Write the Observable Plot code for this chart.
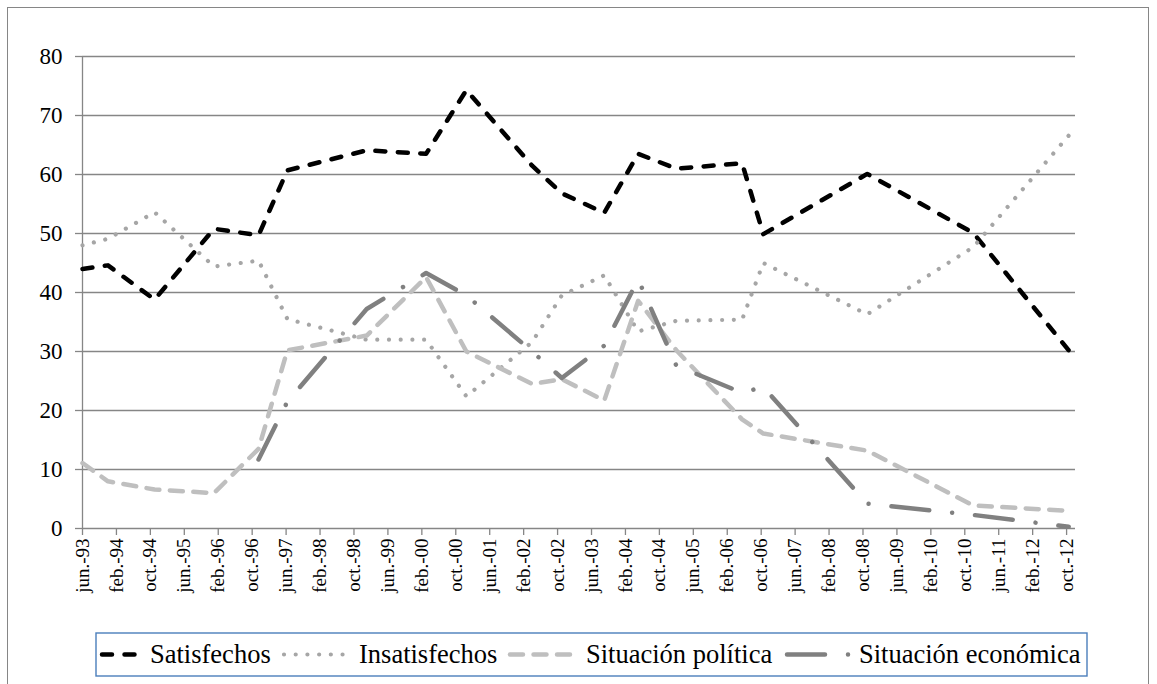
<!DOCTYPE html>
<html><head><meta charset="utf-8">
<script src="https://cdn.jsdelivr.net/npm/d3@7"></script>
<script src="https://cdn.jsdelivr.net/npm/@observablehq/plot@0.6"></script>
<style>
html,body{margin:0;padding:0;background:#fff;}
#wrap{position:relative;width:1157px;height:684px;overflow:hidden;font-family:"Liberation Serif","Times New Roman",serif;}
#frame{position:absolute;left:7px;top:7px;width:1142px;height:720px;border:1px solid #868686;box-sizing:border-box;}
#chart{position:absolute;left:0;top:0;}
#legend{position:absolute;left:0;top:0;}
</style></head><body>
<div id="wrap"><div id="frame"></div><div id="chart"></div><svg id="legend" width="1157" height="684"></svg></div>
<script>
// Survey dates, as months since June 1993
const surveyMonth = [0, 6, 17, 31, 41.5, 48.3, 67, 81, 90.5, 106, 113, 123, 131, 140, 155.5, 160.5, 185, 210, 232.5];
const satisfechos   = [44.0, 44.6, 38.8, 50.8, 49.7, 60.7, 64.1, 63.5, 74.3, 61.5, 56.8, 53.5, 63.5, 61.0, 61.9, 49.9, 60.1, 50.1, 30.2];
const insatisfechos = [48.0, 49.1, 53.6, 44.4, 45.4, 35.5, 32.0, 32.0, 22.4, 31.6, 39.5, 42.9, 33.4, 35.2, 35.4, 45.0, 36.3, 47.7, 66.6];
const sitPolitica   = [11.1, 8.0, 6.6, 6.0, 13.5, 30.2, 32.7, 42.6, 30.0, 24.5, 25.3, 21.7, 38.6, 30.2, 18.5, 16.1, 13.2, 3.9, 3.0];
const sitEconomica  = [null, null, null, null, 11.7, 21.5, 37.2, 43.3, 39.5, 30.0, 25.5, 31.0, 42.2, 27.6, 23.0, 24.0, 4.2, 2.3, 0.3];
const tickLabels = ["jun.-93","feb.-94","oct.-94","jun.-95","feb.-96","oct.-96","jun.-97","feb.-98","oct.-98","jun.-99",
  "feb.-00","oct.-00","jun.-01","feb.-02","oct.-02","jun.-03","feb.-04","oct.-04","jun.-05","feb.-06",
  "oct.-06","jun.-07","feb.-08","oct.-08","jun.-09","feb.-10","oct.-10","jun.-11","feb.-12","oct.-12"];
const seriesNames = ["Satisfechos", "Insatisfechos", "Situación política", "Situación económica"];
const yTicks = [0, 10, 20, 30, 40, 50, 60, 70, 80];

const styles = {
  "Satisfechos":         {stroke: "#000000", width: 4.5, dash: "10,12.5"},
  "Insatisfechos":       {stroke: "#a6a6a6", width: 4.2, dash: "0.01,11.7"},
  "Situación política":  {stroke: "#bfbfbf", width: 4.5, dash: "13,10.5"},
  "Situación económica": {stroke: "#808080", width: 4.5, dash: "38,23,0.01,23"}
};
const valuesBySeries = [satisfechos, insatisfechos, sitPolitica, sitEconomica];
const tickMonths = tickLabels.map((_, i) => i * 8);
const GRID = "#868686";

const lineMarks = seriesNames.map((name, s) => {
  const rows = surveyMonth.map((m, i) => ({m, v: valuesBySeries[s][i]})).filter(d => d.v != null);
  const st = styles[name];
  return Plot.line(rows, {x: "m", y: "v", stroke: st.stroke, strokeWidth: st.width,
    strokeDasharray: st.dash, strokeLinecap: "round", strokeLinejoin: "round"});
});

const chart = Plot.plot({
  width: 1157, height: 628,
  marginLeft: 82, marginRight: 82, marginTop: 56, marginBottom: 100,
  style: {fontFamily: '"Liberation Serif","Times New Roman",serif', background: "transparent", color: "#000"},
  x: {type: "linear", domain: [0, 234.1]},
  y: {domain: [0, 80]},
  marks: [
    Plot.gridY(yTicks.filter(t => t > 0), {stroke: GRID, strokeOpacity: 1, strokeWidth: 1.3}),
    Plot.ruleY([0], {stroke: GRID, strokeWidth: 1.3}),
    Plot.ruleX([0], {y1: 0, y2: 80, stroke: GRID, strokeWidth: 1.3}),
    Plot.axisY(yTicks, {anchor: "left", tickSize: 7, tickPadding: 13, fontSize: 23, stroke: GRID, strokeWidth: 1.3, label: null, fill: "#000"}),
    Plot.axisX(tickMonths, {anchor: "bottom", tickSize: 7, tickPadding: 3, tickRotate: -90, fontSize: 19,
      tickFormat: (d) => tickLabels[Math.round(d / 8)], stroke: GRID, strokeWidth: 1.3, label: null, fill: "#000"}),
    ...lineMarks
  ]
});
document.getElementById("chart").appendChild(chart);

// Legend
const leg = d3.select("#legend");
leg.append("rect").attr("x", 96).attr("y", 633).attr("width", 991).attr("height", 43)
  .attr("fill", "#fff").attr("stroke", "#4a7ebb").attr("stroke-width", 1.4);
const legendItems = [
  {name: "Satisfechos", x0: 102, x1: 136, tx: 150},
  {name: "Insatisfechos", x0: 284, x1: 347, tx: 359},
  {name: "Situación política", x0: 510, x1: 572, tx: 586},
  {name: "Situación económica", x0: 787, x1: 850, tx: 859}
];
legendItems.forEach(it => {
  const st = styles[it.name];
  leg.append("line").attr("x1", it.x0).attr("x2", it.x1).attr("y1", 654.5).attr("y2", 654.5)
    .attr("stroke", st.stroke).attr("stroke-width", st.width).attr("stroke-dasharray", st.dash)
    .attr("stroke-linecap", "round");
  leg.append("text").attr("x", it.tx).attr("y", 663).attr("font-size", 26.5)
    .attr("font-family", '"Liberation Serif","Times New Roman",serif').attr("fill", "#000").text(it.name);
});
</script>
</body></html>
